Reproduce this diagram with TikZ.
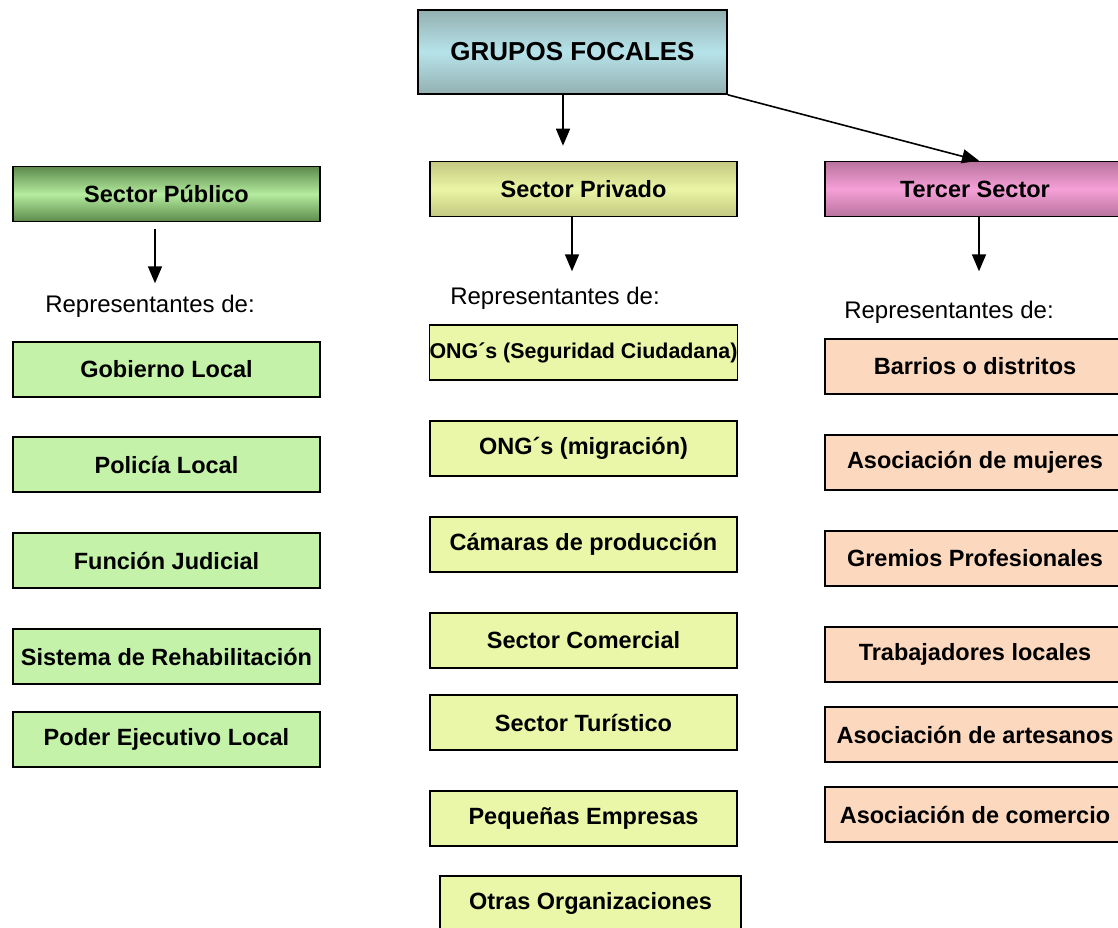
\documentclass[tikz,border=0pt]{standalone}
\usepackage{fontspec}
\setmainfont{Liberation Sans}
\usetikzlibrary{arrows.meta}

\definecolor{gfborde}{HTML}{93B0B0}
\definecolor{gfcentro}{HTML}{B6E3EA}
\definecolor{pubborde}{HTML}{5D8A4C}
\definecolor{pubcentro}{HTML}{B4EC9E}
\definecolor{privborde}{HTML}{C4C982}
\definecolor{privcentro}{HTML}{EAF5A4}
\definecolor{terborde}{HTML}{B9739E}
\definecolor{tercentro}{HTML}{F5A0D8}
\definecolor{verdebox}{HTML}{C4F2A8}
\definecolor{amarillobox}{HTML}{EAF7A8}
\definecolor{duraznobox}{HTML}{FCD8BE}

\tikzset{
  caja/.style={draw, line width=1.6pt, minimum width=307pt, minimum height=55pt,
    inner sep=0pt, font=\bfseries\fontsize{23.5}{28}\selectfont},
  cabecera/.style={caja, top color=#1borde, bottom color=#1borde, middle color=#1centro},
  rep/.style={inner sep=0pt, font=\fontsize{24}{28}\selectfont},
  flecha/.style={line width=1.6pt, -{Triangle[width=14pt,length=17pt]}}
}

\begin{document}
\begin{tikzpicture}[x=1pt,y=1pt]
\useasboundingbox (0,0) rectangle (1118,-928);
\clip (0,0) rectangle (1118,-928);

% Titulo
\node[cabecera=gf, minimum width=309pt, minimum height=84pt,
  font=\bfseries\fontsize{26}{30}\selectfont] (gf) at (572.5,-52) {GRUPOS FOCALES};

% Sectores
\node[cabecera=pub] (publico) at (166.5,-194) {Sector Público};
\node[cabecera=priv] (privado) at (583.5,-189) {Sector Privado};
\node[cabecera=ter, minimum width=300pt] (tercer) at (975,-189) {Tercer Sector};

% Representantes
\node[rep] (repA) at (150,-306) {Representantes de:};
\node[rep] (repB) at (555,-298) {Representantes de:};
\node[rep] (repC) at (949,-312) {Representantes de:};

% Flechas
\draw[flecha] ([xshift=-9.5pt]gf.south) -- ([xshift=-20.5pt,yshift=15pt]privado.north);
\draw[flecha] (gf.south east) -- ([xshift=4pt]tercer.north);
\draw[flecha] ([xshift=-11.5pt,yshift=-7pt]publico.south) -- ([xshift=-11.5pt,yshift=-61pt]publico.south);
\draw[flecha] ([xshift=-11.5pt]privado.south) -- ([xshift=-11.5pt,yshift=-54pt]privado.south);
\draw[flecha] ([xshift=4pt]tercer.south) -- ([xshift=4pt,yshift=-54pt]tercer.south);

% Sector publico
\begin{scope}[every node/.style={caja, fill=verdebox}]
  \node (gob) at (166.5,-369.5) {Gobierno Local};
  \node (pol) at (166.5,-464.5) {Policía Local};
  \node (jud) at (166.5,-560.5) {Función Judicial};
  \node (reh) at (166.5,-656.5) {Sistema de Rehabilitación};
  \node (eje) at (166.5,-739.5) {Poder Ejecutivo Local};
\end{scope}

% Sector privado
\begin{scope}[every node/.style={caja, fill=amarillobox}]
  \node[font=\bfseries\fontsize{21.4}{26}\selectfont] (ongA) at (583.5,-352.5) {ONG´s (Seguridad Ciudadana)};
  \node (ongB) at (583.5,-448.5) {ONG´s (migración)};
  \node (cam)  at (583.5,-544.5) {Cámaras de producción};
  \node (com)  at (583.5,-640.5) {Sector Comercial};
  \node (tur)  at (583.5,-722.5) {Sector Turístico};
  \node (pym)  at (583.5,-818.5) {Pequeñas Empresas};
  \node[minimum width=301pt] (otr) at (590.5,-903.5) {Otras Organizaciones};
\end{scope}

% Tercer sector
\begin{scope}[every node/.style={caja, fill=duraznobox, minimum width=300pt}]
  \node (bar) at (975,-366.5) {Barrios o distritos};
  \node (muj) at (975,-462.5) {Asociación de mujeres};
  \node (gre) at (975,-558.5) {Gremios Profesionales};
  \node (tra) at (975,-654.5) {Trabajadores locales};
  \node (art) at (975,-734.5) {Asociación de artesanos};
  \node (aco) at (975,-814.5) {Asociación de comercio};
\end{scope}

\end{tikzpicture}
\end{document}
